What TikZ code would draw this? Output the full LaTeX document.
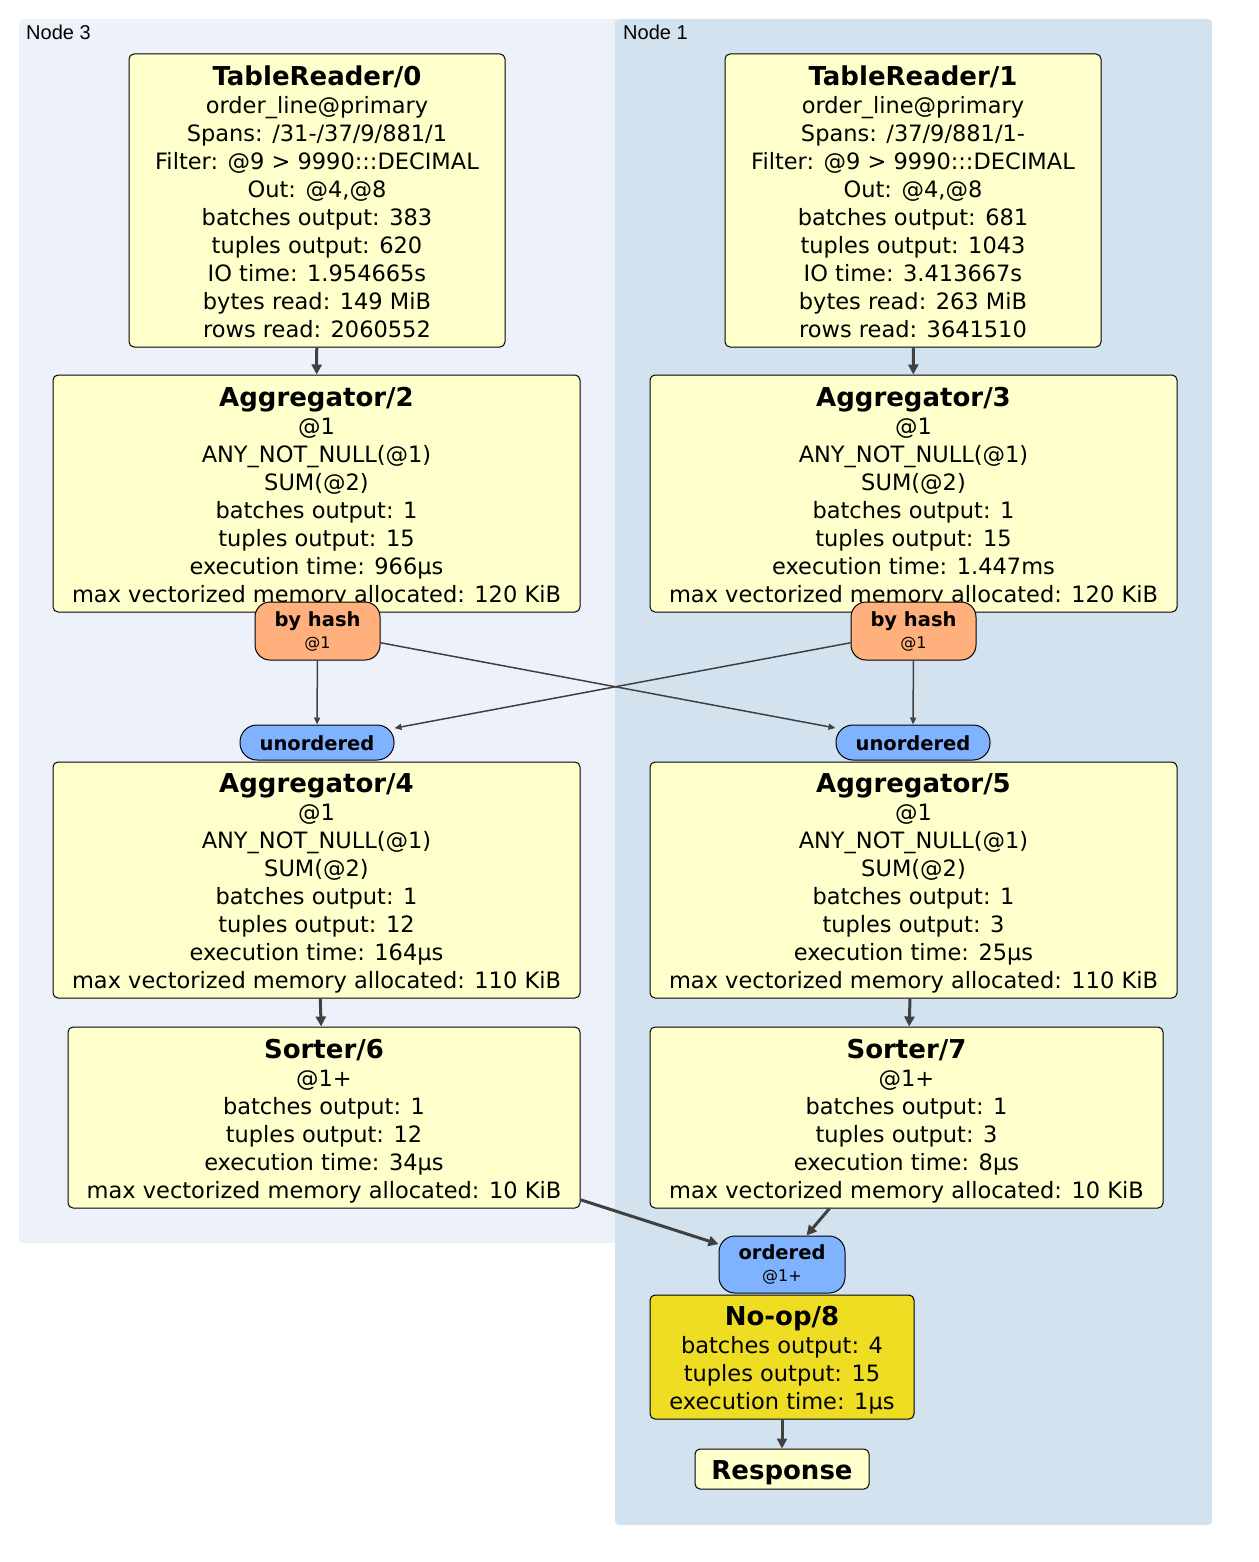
\documentclass[tikz,border=0pt]{standalone}
\usepackage{fontspec}
\setmainfont{DejaVu Sans}
\newfontfamily\clusterfont{Liberation Sans}
\usetikzlibrary{arrows.meta}
\definecolor{clusterL}{HTML}{EDF2FA}
\definecolor{clusterR}{HTML}{D2E3EF}
\definecolor{ylw}{HTML}{FFFFCC}
\definecolor{noopc}{HTML}{EEDD22}
\definecolor{hashc}{HTML}{FFB07C}
\definecolor{syncc}{HTML}{80B3FF}
\definecolor{edgec}{HTML}{404040}
\tikzset{
  opbox/.style={draw=black, line width=1pt, fill=ylw, rounded corners=5pt, align=center, inner sep=0pt,
    font=\fontsize{22.5}{28}\selectfont},
  hashbox/.style={draw=black, line width=1pt, fill=hashc, rounded corners=15pt, align=center, inner sep=0pt,
    minimum width=125pt, minimum height=58pt, font=\fontsize{19.5}{25}\selectfont},
  syncbox/.style={draw=black, line width=1pt, fill=syncc, rounded corners=17pt, align=center, inner sep=0pt,
    minimum width=154pt, minimum height=35pt, font=\fontsize{19.5}{24}\selectfont\bfseries},
  thick edge/.style={draw=edgec, line width=3pt, -{Triangle[length=10pt,width=10pt]}},
  thin edge/.style={draw=edgec, line width=1.5pt, -{Triangle[length=7pt,width=6pt]}},
  clab/.style={anchor=base west, inner sep=0pt, font=\clusterfont\fontsize{20}{24}\selectfont},
}
\newcommand{\ttlx}[2][26pt]{{\fontsize{26}{29}\selectfont\bfseries\rule{0pt}{#1}#2}}
\newcommand{\smalltag}[1]{{\fontsize{16}{18}\selectfont #1}}
\begin{document}
\begin{tikzpicture}[x=1pt,y=-1pt]
\useasboundingbox (0,0) rectangle (1258,1562);
% clusters
\fill[clusterL, rounded corners=4pt] (19,19) rectangle (620,1243);
\fill[clusterR, rounded corners=4pt] (615,19) rectangle (1212,1525);
\node[clab] (lab3) at (26,40) {Node 3};
\node[clab] (lab1) at (623,40) {Node 1};

% table readers
\node[opbox, minimum width=376pt, minimum height=293pt] (tr0) at (317,200.5) {\ttlx[22pt]{TableReader/0}\\
order\_line@primary\\ Spans: /31-/37/9/881/1\\ Filter: @9 > 9990:::DECIMAL\\ Out: @4,@8\\
batches output: 383\\ tuples output: 620\\ IO time: 1.954665s\\ bytes read: 149 MiB\\ rows read: 2060552};
\node[opbox, minimum width=376pt, minimum height=293pt] (tr1) at (913,200.5) {\ttlx[22pt]{TableReader/1}\\
order\_line@primary\\ Spans: /37/9/881/1-\\ Filter: @9 > 9990:::DECIMAL\\ Out: @4,@8\\
batches output: 681\\ tuples output: 1043\\ IO time: 3.413667s\\ bytes read: 263 MiB\\ rows read: 3641510};

% first aggregators
\node[opbox, minimum width=527pt, minimum height=237pt] (ag2) at (316.5,493.5) {\ttlx{Aggregator/2}\\
@1\\ ANY\_NOT\_NULL(@1)\\ SUM(@2)\\ batches output: 1\\ tuples output: 15\\ execution time: 966µs\\
max vectorized memory allocated: 120 KiB};
\node[opbox, minimum width=527pt, minimum height=237pt] (ag3) at (913.5,493.5) {\ttlx{Aggregator/3}\\
@1\\ ANY\_NOT\_NULL(@1)\\ SUM(@2)\\ batches output: 1\\ tuples output: 15\\ execution time: 1.447ms\\
max vectorized memory allocated: 120 KiB};

% routers
\node[hashbox] (hL) at (317.5,631) {\textbf{by hash}\\[-3pt]\smalltag{@1}};
\node[hashbox] (hR) at (913.5,631) {\textbf{by hash}\\[-3pt]\smalltag{@1}};

% unordered syncs
\node[syncbox] (uL) at (317,742.5) {\rule{0pt}{17pt}unordered};
\node[syncbox] (uR) at (913,742.5) {\rule{0pt}{17pt}unordered};

% second aggregators
\node[opbox, minimum width=527pt, minimum height=236pt] (ag4) at (316.5,880) {\ttlx{Aggregator/4}\\
@1\\ ANY\_NOT\_NULL(@1)\\ SUM(@2)\\ batches output: 1\\ tuples output: 12\\ execution time: 164µs\\
max vectorized memory allocated: 110 KiB};
\node[opbox, minimum width=527pt, minimum height=236pt] (ag5) at (913.5,880) {\ttlx{Aggregator/5}\\
@1\\ ANY\_NOT\_NULL(@1)\\ SUM(@2)\\ batches output: 1\\ tuples output: 3\\ execution time: 25µs\\
max vectorized memory allocated: 110 KiB};

% sorters
\node[opbox, minimum width=512pt, minimum height=181pt] (s6) at (324,1117.5) {\ttlx{Sorter/6}\\
@1+\\ batches output: 1\\ tuples output: 12\\ execution time: 34µs\\
max vectorized memory allocated: 10 KiB};
\node[opbox, minimum width=513pt, minimum height=181pt] (s7) at (906.5,1117.5) {\ttlx{Sorter/7}\\
@1+\\ batches output: 1\\ tuples output: 3\\ execution time: 8µs\\
max vectorized memory allocated: 10 KiB};

% ordered sync
\node[syncbox, font=\fontsize{19.5}{25}\selectfont, minimum width=126pt, minimum height=57pt, rounded corners=16pt] (ord) at (782,1264.5)
  {\textbf{ordered}\\[-3pt]\smalltag{@1+}};

% noop
\node[opbox, fill=noopc, minimum width=264pt, minimum height=124pt] (noop) at (782,1357) {\ttlx{No-op/8}\\
batches output: 4\\ tuples output: 15\\ execution time: 1µs};

% response
\node[opbox, minimum width=174pt, minimum height=40pt] (resp) at (782,1469) {\ttlx{Response}};

% edges
\draw[thick edge] (tr0) -- (ag2);
\draw[thick edge] (tr1) -- (ag3);
\draw[thin edge] (hL) -- (uL);
\draw[thin edge] (hL) -- (uR);
\draw[thin edge] (hR) -- (uL);
\draw[thin edge] (hR) -- (uR);
\draw[thick edge] (ag4) -- (s6);
\draw[thick edge] (ag5) -- (s7);
\draw[thick edge] (s6) -- (ord);
\draw[thick edge] (s7) -- (ord);
\draw[thick edge] (noop) -- (resp);
\end{tikzpicture}
\end{document}
